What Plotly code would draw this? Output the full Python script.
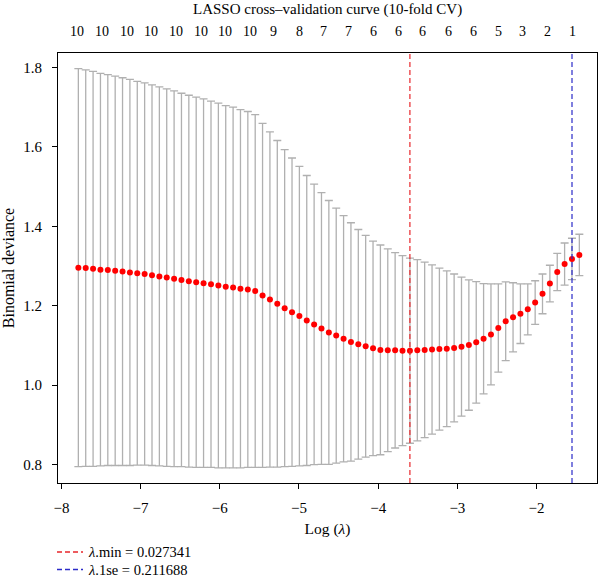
import numpy as np
import plotly.graph_objects as go

# ---- data ----
lambda_min = 0.027341
lambda_1se = 0.211688

log_lambda = [
    -7.786, -7.693, -7.600, -7.507, -7.414, -7.321, -7.228, -7.135, -7.042, -6.949,
    -6.856, -6.763, -6.670, -6.577, -6.484, -6.391, -6.298, -6.205, -6.111, -6.018,
    -5.925, -5.832, -5.739, -5.646, -5.553, -5.460, -5.367, -5.274, -5.181, -5.088,
    -4.995, -4.902, -4.809, -4.716, -4.623, -4.530, -4.437, -4.344, -4.251, -4.158,
    -4.065, -3.972, -3.879, -3.786, -3.693, -3.599, -3.506, -3.413, -3.320, -3.227,
    -3.134, -3.041, -2.948, -2.855, -2.762, -2.669, -2.576, -2.483, -2.390, -2.297,
    -2.204, -2.111, -2.018, -1.925, -1.832, -1.739, -1.646, -1.553, -1.460,
]

cvm = [
    1.296, 1.295, 1.293, 1.291, 1.290, 1.288, 1.286, 1.284, 1.282, 1.280,
    1.277, 1.274, 1.271, 1.268, 1.265, 1.262, 1.259, 1.257, 1.254, 1.251,
    1.248, 1.246, 1.243, 1.241, 1.237, 1.226, 1.216, 1.205, 1.194, 1.184,
    1.174, 1.163, 1.153, 1.143, 1.133, 1.125, 1.117, 1.109, 1.103, 1.098,
    1.093, 1.089, 1.088, 1.088, 1.087, 1.087, 1.088, 1.089, 1.090, 1.091,
    1.092, 1.094, 1.097, 1.101, 1.108, 1.117, 1.128, 1.144, 1.161, 1.171,
    1.180, 1.191, 1.208, 1.230, 1.256, 1.285, 1.305, 1.318, 1.328,
]

cvsd = [
    0.501, 0.499, 0.497, 0.494, 0.492, 0.490, 0.488, 0.486, 0.483, 0.481,
    0.479, 0.477, 0.475, 0.473, 0.470, 0.468, 0.466, 0.464, 0.461, 0.459,
    0.456, 0.454, 0.451, 0.448, 0.444, 0.433, 0.422, 0.411, 0.399, 0.388,
    0.377, 0.365, 0.353, 0.342, 0.332, 0.321, 0.310, 0.300, 0.289, 0.279,
    0.270, 0.264, 0.255, 0.246, 0.239, 0.233, 0.228, 0.221, 0.213, 0.204,
    0.196, 0.186, 0.175, 0.164, 0.153, 0.139, 0.127, 0.111, 0.099, 0.087,
    0.075, 0.064, 0.055, 0.050, 0.046, 0.047, 0.053, 0.052, 0.052,
]

# number of non-zero coefficients shown on the top axis
top_labels = ["10", "10", "10", "10", "10", "10", "10", "10", "9", "8", "7",
              "7", "6", "6", "6", "6", "6", "5", "3", "2", "1"]
top_label_pos = [-7.807, -7.491, -7.176, -6.869, -6.553, -6.241, -5.934, -5.622,
                 -5.316, -4.996, -4.693, -4.378, -4.062, -3.746, -3.438, -3.115,
                 -2.799, -2.484, -2.176, -1.865, -1.549]

x_ticks = [-8, -7, -6, -5, -4, -3, -2]
y_ticks = [0.8, 1.0, 1.2, 1.4, 1.6, 1.8]

# ---- styling ----
FONT = "Liberation Serif"
RED = "#e8262b"
BLUE = "#2b2bc8"
GREY = "#b0b0b0"

W, H = 600, 577
L_M, R_M, T_M, B_M = 58, 3, 53, 94
plot_w = W - L_M - R_M
plot_h = H - T_M - B_M

fig = go.Figure()

fig.add_trace(go.Scatter(
    x=log_lambda, y=cvm, mode="markers",
    marker=dict(color="red", size=6),
    error_y=dict(type="data", array=cvsd, symmetric=True,
                 color=GREY, thickness=1.3, width=4),
    showlegend=False, hoverinfo="x+y",
))

# vertical reference lines
for val, col in [(lambda_min, RED), (lambda_1se, BLUE)]:
    fig.add_shape(type="line", xref="x", yref="paper",
                  x0=float(np.log(val)), x1=float(np.log(val)), y0=0, y1=1,
                  line=dict(color=col, width=1.2, dash="5px,3px"))

# top axis labels (number of non-zero coefficients)
for pos, lab in zip(top_label_pos, top_labels):
    fig.add_annotation(x=pos, y=1 + (T_M - 31) / plot_h, xref="x", yref="paper",
                       text=lab, showarrow=False, yanchor="middle",
                       font=dict(family=FONT, size=14, color="black"))

# title
fig.add_annotation(x=0.5, y=1 + (T_M - 10) / plot_h, xref="paper", yref="paper",
                   text="LASSO cross\u2013validation curve (10-fold CV)",
                   showarrow=False, yanchor="middle",
                   font=dict(family=FONT, size=15, color="black"))

# manual legend
legend_items = [("\u03bb.min = 0.027341", RED, 552),
                ("\u03bb.1se = 0.211688", BLUE, 569.5)]
for text, col, ypx in legend_items:
    yp = -(ypx - (T_M + plot_h)) / plot_h
    fig.add_shape(type="line", xref="paper", yref="paper",
                  x0=(57 - L_M) / plot_w, x1=(83 - L_M) / plot_w, y0=yp, y1=yp,
                  line=dict(color=col, width=1.3, dash="5px,3px"))
    fig.add_annotation(x=(87 - L_M) / plot_w, y=yp, xref="paper", yref="paper",
                       text="<i>" + text[0] + "</i>" + text[1:],
                       showarrow=False, xanchor="left", yanchor="middle",
                       borderpad=0,
                       font=dict(family=FONT, size=14.5, color="black"))

fig.update_layout(
    width=W, height=H,
    margin=dict(l=L_M, r=R_M, t=T_M, b=B_M, pad=0),
    paper_bgcolor="white", plot_bgcolor="white",
    font=dict(family=FONT, size=15, color="black"),
    xaxis=dict(range=[-8.043, -1.237], tickvals=x_ticks,
               showgrid=False, zeroline=False,
               showline=True, mirror=True, linecolor="black", linewidth=1,
               ticks="outside", ticklen=5, tickcolor="black",
               ticklabelstandoff=6,
               title=dict(text="Log (<i>\u03bb</i>)", standoff=8,
                          font=dict(family=FONT, size=15.5))),
    yaxis=dict(range=[0.7539, 1.8363], tickvals=y_ticks, tickformat=".1f",
               showgrid=False, zeroline=False,
               showline=True, mirror=True, linecolor="black", linewidth=1,
               ticks="outside", ticklen=5, tickcolor="black",
               ticklabelstandoff=7,
               title=dict(text="Binomial deviance", standoff=5,
                          font=dict(family=FONT, size=16))),
)

fig.write_html("out.html")
